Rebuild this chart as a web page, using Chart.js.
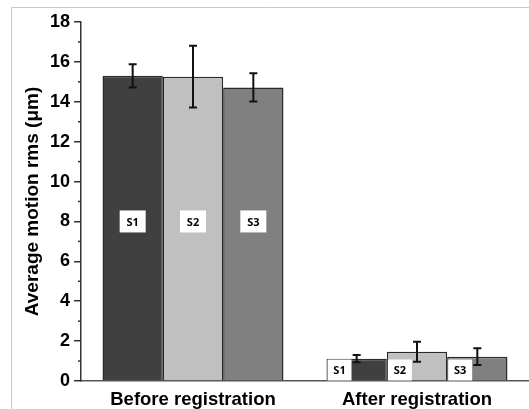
<!DOCTYPE html>
<html>
<head>
<meta charset="utf-8">
<script src="https://cdn.jsdelivr.net/npm/chart.js@4.4.0/dist/chart.umd.min.js"></script>
<style>
html,body{margin:0;padding:0;background:#fff;}
#wrap{width:529px;height:409px;position:relative;}
</style>
</head>
<body>
<div id="wrap"><canvas id="c" width="529" height="409"></canvas></div>
<script>
const categories = ['Before registration', 'After registration'];
const seriesNames = ['S1', 'S2', 'S3'];
const s1Values = [15.3, 1.12];
const s1Errors = [0.58, 0.18];
const s2Values = [15.26, 1.47];
const s2Errors = [1.55, 0.5];
const s3Values = [14.72, 1.22];
const s3Errors = [0.71, 0.42];
const yTicks = [0, 2, 4, 6, 8, 10, 12, 14, 16, 18];
const labelBoxY = 8;

const colors = ['#404040', '#c0c0c0', '#808080'];
const values = [s1Values, s2Values, s3Values];
const errors = [s1Errors, s2Errors, s3Errors];

const overlay = {
  id: 'overlay',
  beforeDraw(chart) {
    const ctx = chart.ctx;
    ctx.save();
    ctx.strokeStyle = '#c8c8c8';
    ctx.lineWidth = 1;
    ctx.beginPath();
    ctx.moveTo(11.5, 409);
    ctx.lineTo(11.5, 7.5);
    ctx.lineTo(529, 7.5);
    ctx.stroke();
    ctx.restore();
  },
  afterDatasetsDraw(chart) {
    const ctx = chart.ctx;
    const y = chart.scales.y;
    ctx.save();
    // minor ticks
    ctx.strokeStyle = '#333';
    ctx.lineWidth = 1.5;
    for (let v = 1; v < 18; v += 2) {
      const py = y.getPixelForValue(v);
      ctx.beginPath();
      ctx.moveTo(chart.chartArea.left - 3, py);
      ctx.lineTo(chart.chartArea.left, py);
      ctx.stroke();
    }
    chart.data.datasets.forEach((ds, di) => {
      const meta = chart.getDatasetMeta(di);
      meta.data.forEach((bar, i) => {
        const v = ds.data[i];
        const e = errors[di][i];
        const top = y.getPixelForValue(v + e);
        const bot = y.getPixelForValue(v - e);
        const x = bar.x;
        const w = bar.width;
        const left = x - w / 2;
        // label box
        ctx.fillStyle = '#fff';
        let bx, by, bw, bh;
        if (i === 0) {
          bw = 26; bh = 22;
          bx = x - bw / 2;
          by = y.getPixelForValue(labelBoxY) - bh / 2;
        } else {
          bw = 24; bh = 21;
          bx = left + 1;
          by = y.getPixelForValue(0) - bh - 0.5;
        }
        ctx.fillRect(bx, by, bw, bh);
        ctx.fillStyle = '#000';
        ctx.font = 'bold 11px "Open Sans", "Liberation Sans", sans-serif';
        ctx.textAlign = 'center';
        ctx.textBaseline = 'middle';
        ctx.fillText(seriesNames[di], bx + bw / 2, by + bh / 2 + 1);
        // error bar
        ctx.strokeStyle = '#111';
        ctx.lineWidth = 2;
        ctx.beginPath();
        ctx.moveTo(x, top); ctx.lineTo(x, bot);
        ctx.moveTo(x - 4, top); ctx.lineTo(x + 4, top);
        ctx.moveTo(x - 4, bot); ctx.lineTo(x + 4, bot);
        ctx.stroke();
      });
    });
    ctx.restore();
  }
};

new Chart(document.getElementById('c'), {
  type: 'bar',
  data: {
    labels: categories,
    datasets: seriesNames.map((n, i) => ({
      label: n,
      data: values[i],
      backgroundColor: colors[i],
      borderColor: '#2a2a2a',
      borderWidth: 1.5,
      borderSkipped: 'bottom',
      barPercentage: 1.0,
      categoryPercentage: 0.808
    }))
  },
  options: {
    responsive: false,
    animation: false,
    devicePixelRatio: 1,
    layout: { padding: { top: 22, right: 0, bottom: 0, left: 0 } },
    plugins: { legend: { display: false }, tooltip: { enabled: false } },
    scales: {
      x: {
        grid: { display: false, drawTicks: false },
        border: { display: true, color: '#555', width: 1.5 },
        ticks: { color: '#000', font: { family: 'Liberation Sans, Arial', size: 18.5, weight: 'bold' }, padding: 8 },
        afterFit: s => { s.height = 28; }
      },
      y: {
        min: 0, max: 18,
        afterBuildTicks: s => { s.ticks = yTicks.map(v => ({ value: v })); },
        grid: { display: true, drawOnChartArea: false, drawTicks: true, tickLength: 7, color: '#333', lineWidth: 1.5 },
        border: { display: true, color: '#333', width: 1.5 },
        ticks: { color: '#000', font: { family: 'Liberation Sans, Arial', size: 18, weight: 'bold' }, padding: 4 },
        title: { display: true, text: 'Average motion rms (\u03bcm)', color: '#000', font: { family: 'Liberation Sans, Arial', size: 19, weight: 'bold' }, padding: { top: 21, bottom: 0 } },
        afterFit: s => { s.width = 81; }
      }
    }
  },
  plugins: [overlay]
});
</script>
</body>
</html>
